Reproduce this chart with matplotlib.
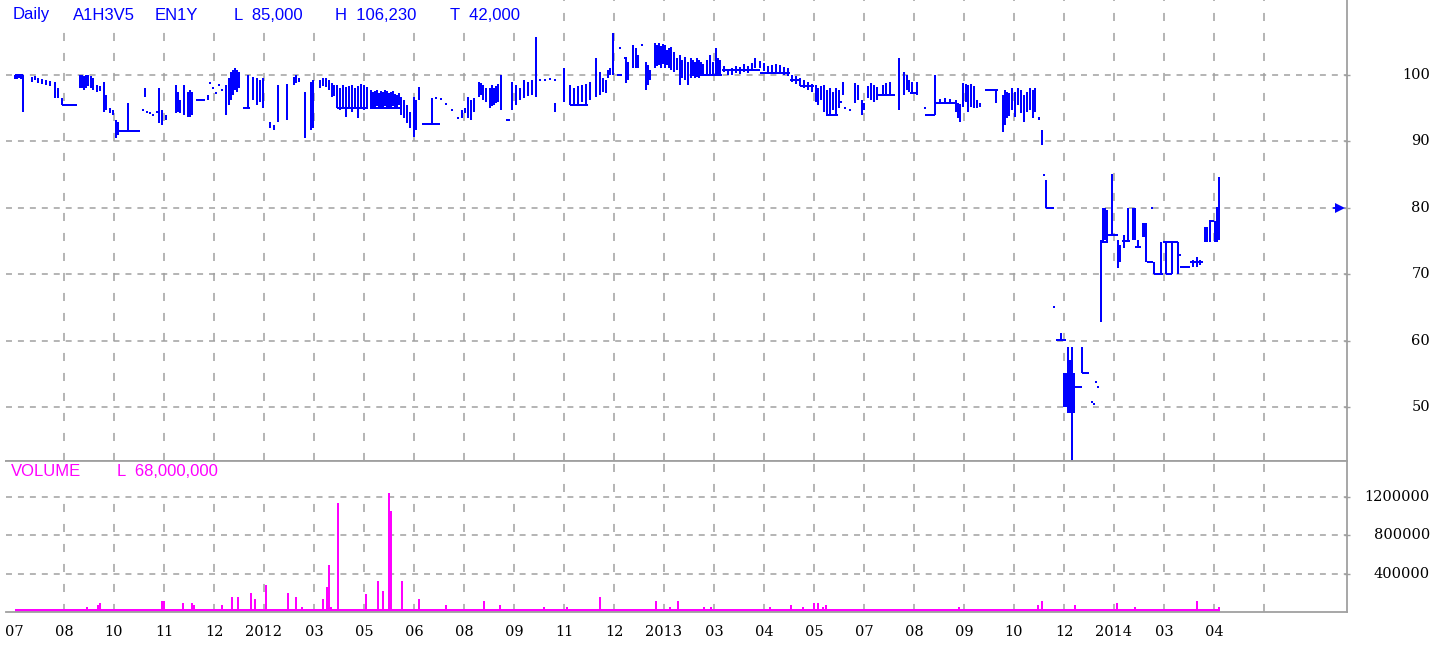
import matplotlib
matplotlib.use("Agg")
import matplotlib.pyplot as plt
from matplotlib.patches import Rectangle
from matplotlib.transforms import blended_transform_factory
import numpy as np

plt.rcParams['lines.scale_dashes'] = False

W, H = 1449, 650

# x axis is the session number, one month label every 50 sessions
month_labels = ["07", "08", "10", "11", "12", "2012", "03", "05", "06", "08",
                "09", "11", "12", "2013", "03", "04", "05", "07", "08", "09",
                "10", "12", "2014", "03", "04"]
label_sessions = np.arange(0, 1250, 50)
grid_sessions = np.arange(50, 1300, 50)
price_ticks = [50, 60, 70, 80, 90, 100]
volume_ticks = [400000, 800000, 1200000]

# daily range bars: (session, low, high)
price_bars = [
    (1, 99.4, 100.0), (3, 99.4, 100.0), (5, 99.5, 100.0), (7, 99.4, 99.8), (9, 94.4, 100.0),
    (18, 98.9, 99.7), (21, 99.2, 99.8), (24, 98.8, 99.5), (28, 98.6, 99.4), (32, 98.5, 99.2),
    (36, 98.3, 99.1), (41, 96.5, 98.9), (44, 96.5, 98.0), (48, 95.5, 96.5),
    (66, 98.0, 100.0), (68, 98.0, 100.0), (70, 97.7, 99.8), (72, 98.0, 100.0), (74, 98.3, 100.0),
    (77, 98.0, 99.8), (79, 97.7, 99.5), (83, 97.4, 98.5), (86, 97.6, 98.3), (90, 94.4, 98.9),
    (92, 94.7, 97.0), (96, 94.3, 95.0), (99, 94.0, 94.7), (102, 90.5, 93.2), (104, 91.0, 92.9),
    (114, 91.7, 95.8), (131, 96.7, 98.0), (145, 92.8, 98.0), (148, 92.5, 94.7), (152, 93.2, 94.0),
    (162, 94.3, 98.5), (164, 94.4, 97.4), (166, 94.3, 96.2), (170, 94.0, 98.5),
    (174, 93.7, 97.4), (176, 93.7, 97.7), (178, 94.0, 97.4), (194, 96.2, 97.0),
    (212, 94.0, 98.5), (215, 95.5, 99.5), (217, 96.2, 100.5), (219, 97.0, 100.8), (221, 97.7, 101.1),
    (223, 97.4, 100.8), (225, 98.0, 100.5), (234, 95.0, 100.0), (239, 96.2, 99.7), (243, 95.5, 99.5),
    (246, 95.9, 99.2), (249, 95.0, 99.5), (256, 92.0, 92.9), (260, 91.7, 92.5), (264, 92.9, 98.5),
    (273, 93.2, 98.6), (280, 98.5, 99.7), (282, 98.8, 100.0), (285, 98.9, 99.5), (291, 90.5, 97.4),
    (297, 91.7, 98.9), (299, 92.0, 99.2), (306, 98.0, 99.2), (309, 98.3, 99.5), (312, 98.2, 99.5),
    (315, 97.7, 99.2), (318, 96.7, 98.8), (320, 96.8, 98.5),
    (323, 95.0, 98.5), (326, 94.7, 98.0), (329, 95.0, 98.5), (332, 93.7, 98.2), (335, 95.0, 98.3),
    (338, 94.4, 98.5), (341, 95.0, 98.0), (344, 93.5, 98.3), (347, 95.0, 98.6), (350, 94.7, 98.5),
    (353, 95.0, 98.2), (357, 95.0, 97.7), (359, 95.2, 97.4), (361, 95.0, 97.6), (363, 95.3, 97.7),
    (365, 95.0, 97.3), (367, 95.2, 97.6), (369, 95.0, 97.4), (371, 95.3, 97.7), (373, 95.0, 97.6),
    (375, 95.2, 97.3), (377, 95.0, 97.4), (379, 95.3, 97.6), (381, 95.0, 97.1), (383, 95.2, 97.0),
    (385, 95.5, 97.3), (387, 94.0, 96.7), (390, 93.5, 96.2), (393, 92.8, 95.5), (396, 92.0, 94.4),
    (400, 90.7, 96.7), (402, 91.7, 96.2), (405, 96.2, 98.2), (418, 92.6, 96.5),
    (448, 93.5, 94.7), (451, 94.3, 95.0), (454, 93.5, 96.7), (457, 93.2, 96.2), (460, 94.4, 96.5),
    (465, 96.7, 98.9), (467, 97.0, 98.8), (469, 96.2, 98.5), (472, 95.9, 98.0),
    (476, 95.0, 98.0), (478, 95.3, 98.5), (480, 95.5, 98.0), (482, 95.8, 98.3), (484, 95.9, 98.6),
    (487, 94.7, 100.0), (498, 94.7, 98.9), (502, 95.5, 98.5), (506, 96.2, 98.0), (510, 96.5, 99.2),
    (514, 96.8, 98.9), (518, 97.0, 99.2), (522, 96.7, 105.7), (541, 94.4, 95.8), (550, 95.9, 101.1),
    (556, 95.5, 98.5), (560, 95.5, 98.0), (564, 95.5, 98.3), (568, 95.9, 98.5), (572, 95.5, 98.6),
    (576, 96.2, 98.9), (582, 96.7, 102.6), (586, 97.0, 100.5), (589, 97.4, 99.5), (592, 97.3, 99.2),
    (594, 99.5, 100.8), (596, 100.0, 101.1), (599, 100.0, 106.3),
    (612, 98.8, 102.7), (614, 99.2, 102.0), (619, 101.1, 104.5), (622, 101.1, 104.1), (624, 101.1, 103.0),
    (632, 97.7, 102.0), (634, 98.5, 101.5), (636, 99.2, 100.8),
    (641, 101.1, 104.8), (643, 101.4, 104.5), (645, 101.5, 104.8), (647, 101.1, 104.4),
    (649, 101.7, 104.7), (651, 101.1, 104.5), (653, 101.5, 103.8), (655, 101.1, 104.1),
    (657, 100.8, 104.2), (660, 100.5, 103.5), (663, 100.8, 102.6),
    (666, 98.5, 103.0), (668, 99.5, 102.3), (671, 99.2, 102.7), (674, 98.5, 102.0),
    (677, 99.5, 102.6), (679, 99.8, 102.3), (681, 99.5, 102.0), (683, 99.7, 102.6),
    (685, 99.5, 102.3), (687, 99.8, 102.0), (689, 99.8, 101.7),
    (693, 100.0, 102.3), (696, 100.0, 103.0), (699, 100.0, 102.0), (702, 100.0, 104.1),
    (704, 100.0, 102.6), (706, 100.0, 102.3),
    (710, 100.5, 101.4), (714, 100.0, 100.8), (718, 100.0, 101.1), (722, 100.3, 101.4),
    (726, 100.2, 101.2), (730, 100.5, 101.7), (734, 100.3, 101.4), (738, 100.8, 101.8),
    (741, 101.1, 102.6), (746, 101.1, 102.1), (750, 100.6, 101.8), (754, 100.3, 101.4),
    (758, 100.5, 101.5), (762, 100.5, 101.7), (766, 100.2, 101.5), (770, 100.0, 101.2),
    (774, 99.8, 101.1), (778, 98.9, 100.0), (782, 98.6, 99.8), (786, 98.3, 99.5),
    (790, 98.0, 99.2), (794, 97.7, 98.9), (798, 97.4, 98.6),
    (802, 95.9, 98.5), (804, 95.5, 98.0), (807, 96.2, 98.3), (810, 94.4, 98.5), (813, 94.0, 97.7),
    (816, 94.0, 98.0), (819, 94.7, 97.4), (822, 94.0, 98.0), (825, 95.0, 97.7), (829, 97.0, 98.9),
    (841, 95.8, 98.8), (844, 96.2, 98.5), (848, 94.0, 96.2), (850, 94.7, 95.8),
    (854, 96.5, 98.3), (857, 96.2, 98.8), (860, 95.9, 98.5), (863, 96.2, 98.2),
    (869, 97.0, 98.5), (872, 97.0, 98.8), (876, 97.0, 98.9),
    (885, 94.7, 102.6), (890, 97.0, 100.5), (893, 97.7, 100.0), (895, 97.4, 99.2),
    (898, 97.3, 98.9), (903, 97.0, 98.9), (921, 94.0, 100.0),
    (926, 95.8, 96.4), (931, 95.8, 96.5), (936, 95.8, 96.4),
    (942, 94.4, 96.2), (944, 93.5, 95.8), (946, 92.9, 95.6),
    (949, 95.2, 98.8), (952, 95.9, 98.6), (954, 94.4, 98.5), (957, 95.2, 98.6), (960, 95.0, 98.3),
    (963, 95.0, 96.2), (966, 95.2, 95.8), (982, 95.8, 97.7),
    (989, 91.4, 97.0), (991, 92.5, 97.7), (993, 93.5, 97.4), (995, 93.8, 97.3),
    (998, 94.7, 98.0), (1001, 93.7, 97.4), (1004, 95.5, 98.0), (1007, 94.3, 97.7), (1010, 92.9, 97.0),
    (1013, 94.4, 97.4), (1016, 94.7, 98.0), (1019, 93.5, 97.7), (1021, 94.4, 98.0),
    (1025, 93.2, 93.7), (1028, 89.5, 91.7), (1032, 80.0, 84.2),
    (1047, 60.1, 61.1), (1050, 50.0, 55.1), (1052, 50.0, 55.1), (1054, 49.1, 59.0), (1056, 49.1, 57.1),
    (1058, 41.9, 59.0), (1060, 49.1, 55.1), (1068, 55.1, 59.0),
    (1087, 62.8, 75.2), (1089, 74.9, 80.0), (1091, 75.2, 80.0), (1093, 74.9, 79.7),
    (1098, 75.9, 85.1), (1104, 70.9, 75.2), (1106, 71.8, 74.4), (1110, 73.9, 75.9),
    (1114, 75.2, 80.0), (1119, 75.2, 80.0), (1121, 75.2, 80.0), (1124, 74.1, 75.2),
    (1129, 75.6, 77.7), (1131, 75.6, 77.7), (1132, 71.8, 77.7), (1140, 70.0, 71.8),
    (1147, 70.0, 74.9), (1152, 70.0, 74.9), (1158, 70.0, 74.9), (1164, 70.0, 74.9),
    (1179, 71.1, 72.1), (1183, 71.1, 72.6), (1186, 71.4, 72.1),
    (1191, 74.9, 77.1), (1193, 74.9, 77.1), (1196, 74.9, 78.0), (1201, 74.9, 78.0),
    (1203, 74.9, 80.1), (1205, 75.2, 84.6),
]

# unchanged stretches: (first session, last session, price)
price_flats = [
    (1, 9, 100.0), (48, 63, 95.5), (104, 126, 91.6), (182, 191, 96.2), (229, 236, 95.0),
    (323, 354, 95.0), (356, 386, 95.0), (408, 426, 92.6), (492, 496, 93.2), (556, 574, 95.5),
    (603, 608, 100.0), (686, 708, 100.0), (708, 746, 100.8), (746, 776, 100.3), (776, 786, 99.2),
    (786, 800, 98.3), (812, 824, 94.0), (862, 881, 97.0), (896, 904, 97.3), (911, 921, 94.0),
    (922, 941, 95.8), (971, 984, 97.7), (1032, 1040, 80.0), (1042, 1052, 60.1), (1052, 1068, 53.0),
    (1068, 1075, 55.1), (1087, 1094, 74.9), (1094, 1104, 75.9), (1108, 1116, 75.0),
    (1121, 1127, 74.1), (1133, 1139, 71.8), (1140, 1149, 70.0), (1149, 1164, 74.9),
    (1152, 1158, 70.0), (1166, 1176, 71.1), (1176, 1189, 71.8), (1195, 1200, 78.0),
]

# single prints: (session, price)
price_dots = [
    (129, 94.7), (133, 94.4), (136, 94.3), (139, 94.0), (143, 94.4),
    (196, 98.8), (199, 98.0), (202, 97.3), (205, 98.5), (208, 97.7),
    (422, 96.5), (427, 96.4), (432, 95.6), (438, 94.7), (444, 93.5),
    (526, 99.2), (531, 99.2), (536, 99.4), (541, 99.2),
    (606, 104.1), (611, 102.6), (628, 104.5),
    (827, 95.9), (831, 95.0), (836, 94.7),
    (911, 95.0), (1030, 84.9), (1040, 65.1),
    (1078, 50.8), (1080, 50.5), (1082, 53.8), (1084, 53.0),
    (1138, 80.0), (1166, 72.9),
]
last_price = 80.0

# volume spikes: (session, volume)
volume_spikes = [
    (42, 35000), (73, 52000), (84, 70000), (86, 94000), (130, 35000), (148, 115000), (150, 115000),
    (169, 94000), (174, 35000), (178, 94000), (180, 70000), (194, 35000), (208, 77000), (218, 157000),
    (224, 157000), (237, 198000), (241, 136000), (252, 278000), (274, 198000), (282, 157000),
    (288, 52000), (296, 31000), (303, 31000), (309, 132000), (313, 261000), (315, 487000),
    (317, 52000), (324, 1138000), (352, 191000), (364, 324000), (369, 216000), (375, 1243000),
    (377, 1051000), (388, 324000), (400, 31000), (405, 136000), (428, 31000), (432, 77000),
    (470, 115000), (481, 31000), (486, 77000), (530, 56000), (553, 52000), (558, 31000),
    (586, 157000), (642, 115000), (656, 52000), (664, 115000), (683, 31000), (690, 52000),
    (697, 52000), (727, 35000), (756, 52000), (777, 77000), (789, 56000), (795, 35000),
    (800, 94000), (804, 94000), (809, 52000), (812, 73000), (817, 31000), (841, 35000),
    (863, 35000), (945, 56000), (963, 31000), (998, 35000), (1020, 35000), (1024, 77000),
    (1028, 115000), (1041, 31000), (1047, 31000), (1061, 77000), (1087, 31000), (1103, 94000),
    (1121, 56000), (1164, 35000), (1183, 115000), (1205, 56000),
]
base_volume = 28000

BLUE = "#0000ff"
MAGENTA = "#ff00ff"
GRID = "#a0a0a0"


def fx(px):
    return px / W


def fy(py):
    return 1 - py / H


fig = plt.figure(figsize=(W / 100, H / 100), dpi=100)
ax = fig.add_axes([fx(6), fy(461), fx(1347) - fx(6), fy(0) - fy(461)])
axv = fig.add_axes([fx(6), fy(612), fx(1347) - fx(6), fy(461) - fy(612)])

for a in (ax, axv):
    a.set_xlim(-8, 1333)
    a.set_xticks([])
    a.spines['left'].set_visible(False)
    for side in ('right', 'bottom', 'top'):
        a.spines[side].set_color(GRID)
        a.spines[side].set_linewidth(1.3)
    a.tick_params(axis='y', left=False, right=True, labelleft=False, labelright=False,
                  direction='inout', length=5, width=1, color=GRID)
ax.spines['top'].set_visible(False)

ax.set_ylim(41.87, 111.3)
axv.set_ylim(0, 1577000)
ax.set_yticks(price_ticks)
axv.set_yticks(volume_ticks)

# grid
vdash = (0, (5.8, 8.6))
hdash = (0, (4.3, 4.3))
ax.vlines(grid_sessions, 41.87, 111.3, colors=GRID, linestyles=vdash, lw=1.1, zorder=1)
ax.hlines(price_ticks, -8, 1333, colors=GRID, linestyles=hdash, lw=1.1, zorder=1)
axv.vlines(grid_sessions, 0, 1577000, colors=GRID, linestyles=vdash, lw=1.1, zorder=1)
axv.hlines(volume_ticks, -8, 1333, colors=GRID, linestyles=hdash, lw=1.1, zorder=1)

# white label boxes that hide the grid behind the headers
ax.add_patch(Rectangle((fx(6), fy(30)), fx(548) - fx(6), fy(0) - fy(30),
                       transform=fig.transFigure, facecolor='white', edgecolor='none', zorder=1.5))
axv.add_patch(Rectangle((fx(6), fy(495)), fx(548) - fx(6), fy(462) - fy(495),
                        transform=fig.transFigure, facecolor='white', edgecolor='none', zorder=1.5))

# price
bs, blo, bhi = zip(*price_bars)
ax.vlines(bs, blo, bhi, colors=BLUE, lw=1.1, antialiased=False, zorder=2)
fs0, fs1, flv = zip(*price_flats)
ax.hlines(flv, fs0, fs1, colors=BLUE, lw=1.1, antialiased=False, zorder=2)
ds, dp = zip(*price_dots)
ax.plot(ds, dp, 's', color=BLUE, ms=1.6, mew=0, antialiased=False, zorder=2)

edge = blended_transform_factory(ax.transAxes, ax.transData)
ax.plot([0.9903, 0.9950], [last_price, last_price], color=BLUE, lw=1.3, transform=edge, clip_on=False)
ax.plot([0.9950], [last_price], '>', color=BLUE, ms=7, mew=0, transform=edge, clip_on=False)

# volume
vs, vv = zip(*volume_spikes)
axv.vlines(vs, 0, vv, colors=MAGENTA, lw=1.1, antialiased=False, zorder=2)
axv.fill_between([bs[0], bs[-1]], 0, base_volume, color=MAGENTA, lw=0, zorder=2)

# headers
title_parts = [("Daily", 13), ("A1H3V5", 73), ("EN1Y", 155), ("L  85,000", 234),
               ("H  106,230", 335), ("T  42,000", 450)]
for txt, px in title_parts:
    fig.text(fx(px), fy(15), txt, color=BLUE, fontsize=12, family='Liberation Sans',
             ha='left', va='center', zorder=3)
for txt, px in [("VOLUME", 11), ("L  68,000,000", 117)]:
    fig.text(fx(px), fy(472), txt, color=MAGENTA, fontsize=12, family='Liberation Sans',
             ha='left', va='center', zorder=3)

# axis labels
right_p = blended_transform_factory(fig.transFigure, ax.transData)
for t in price_ticks:
    ax.text(fx(1430), t, str(t), transform=right_p, ha='right', va='center',
            fontsize=10.5, family='DejaVu Serif', clip_on=False)
right_v = blended_transform_factory(fig.transFigure, axv.transData)
for t in volume_ticks:
    axv.text(fx(1430), t, str(t), transform=right_v, ha='right', va='center',
             fontsize=10.5, family='DejaVu Serif', clip_on=False)
bottom = blended_transform_factory(axv.transData, fig.transFigure)
for s, lab in zip(label_sessions, month_labels):
    axv.text(s, fy(632), lab, transform=bottom, ha='center', va='center',
             fontsize=10.5, family='DejaVu Serif', clip_on=False)

fig.savefig("out.png", dpi=100)
